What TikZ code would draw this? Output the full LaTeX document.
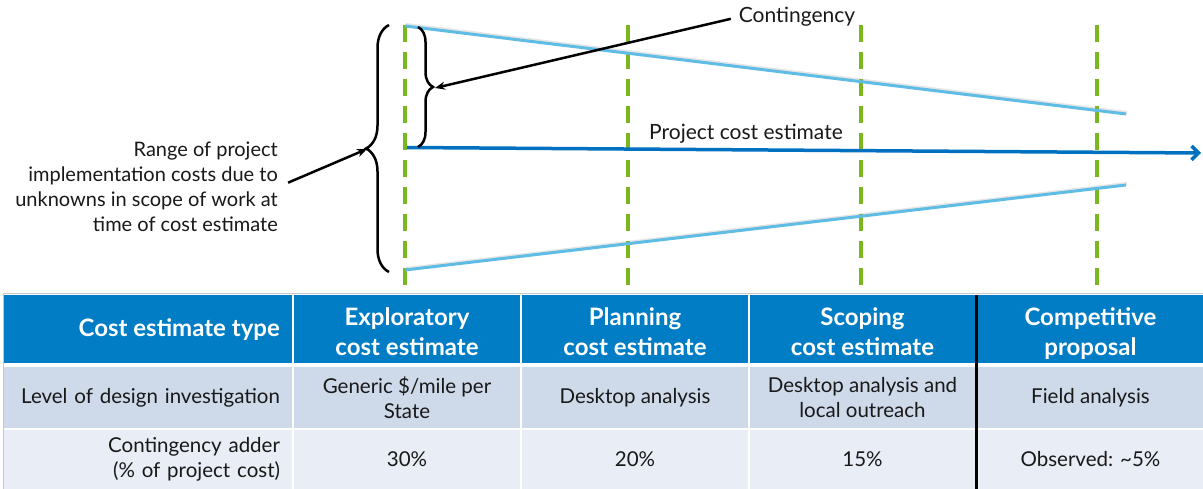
\documentclass[tikz,border=0pt]{standalone}
\usepackage{fontspec}
\setmainfont{Lato}
\usetikzlibrary{arrows.meta,decorations.pathreplacing}
\definecolor{hdrblue}{RGB}{0,125,197}
\definecolor{rowa}{RGB}{206,217,234}
\definecolor{rowb}{RGB}{232,237,246}
\definecolor{lineblue}{RGB}{95,188,228}
\definecolor{arrowblue}{RGB}{0,112,192}
\definecolor{dashgreen}{RGB}{122,182,30}
\definecolor{txt}{RGB}{25,25,25}
\begin{document}
\begin{tikzpicture}[x=1pt,y=-1pt,
  hdr/.style={fill=hdrblue, inner sep=0pt, minimum height=68pt},
  hdrtext/.style={text=white, font=\fontsize{24}{29.5}\selectfont\bfseries, align=center, inner sep=0pt},
  rowA/.style={fill=rowa, text=txt, font=\fontsize{20.5}{24.5}\selectfont, align=center, inner sep=0pt, minimum height=61pt},
  rowB/.style={fill=rowb, text=txt, font=\fontsize{20.5}{24.5}\selectfont, align=center, inner sep=0pt, minimum height=59pt},
  firstcol/.style={text width=264pt, align=right, inner xsep=12pt, inner ysep=0pt},
  wide/.style={minimum width=226pt},
  narrow/.style={minimum width=225pt},
  gdash/.style={draw=dashgreen, line width=3.5pt, dash pattern=on 17pt off 10pt},
  rangeline/.style={draw=lineblue, line width=3pt},
  rshadow/.style={draw=black!40, line width=3pt, opacity=0.25},
  annot/.style={text=txt, font=\fontsize{20}{25}\selectfont, inner sep=0pt},
  blackarrow/.style={draw=black, line width=2.5pt, -{Stealth[length=10pt,width=8pt]}},
  bracestyle/.style={draw=black, line width=2.5pt, decorate},
]
\useasboundingbox (0,0) rectangle (1203,489);
\fill[white] (0,0) rectangle (1203,489);

% green dashed stage lines
\foreach \gx in {405,628,861,1097} {
  \draw[gdash] (\gx,25) -- (\gx,293);
}

% range lines (with faint shadow)
\coordinate (ut0) at (405,26);
\coordinate (ut1) at (1126,114);
\coordinate (lb0) at (405,270);
\coordinate (lb1) at (1126,185);
\draw[rshadow] ([shift={(1pt,1.5pt)}]ut0) -- ([shift={(1pt,1.5pt)}]ut1);
\draw[rshadow] ([shift={(1pt,1.5pt)}]lb0) -- ([shift={(1pt,1.5pt)}]lb1);
\draw[rangeline] (ut0) -- (ut1);
\draw[rangeline] (lb0) -- (lb1);

% project cost estimate arrow
\coordinate (pstart) at (407,147.5);
\coordinate (pend) at (1201,153);
\draw[draw=arrowblue, line width=3.5pt, -{Straight Barb[length=7pt,width=14pt]}] (pstart) -- (pend);
\node[annot, font=\fontsize{21}{25}\selectfont] (plabel) at (746,134) {Project cost estimate};

% braces
\draw[bracestyle, decoration={brace, amplitude=15pt}] (418,27) -- (418,147);
\coordinate (smalltip) at (435,88);
\draw[bracestyle, decoration={brace, amplitude=23pt}] (389,272) -- (389,25);
\coordinate (bigtip) at (367,149);

% labels and arrows
\node[annot, font=\fontsize{21}{25}\selectfont] (contlabel) at (797,17) {Contingency};
\draw[blackarrow, shorten <=8pt] (contlabel.west) -- (smalltip);

\node[annot, align=right, anchor=east] (rangetext) at (278,187)
  {Range of project\\implementation costs due to\\unknowns in scope of work at\\time of cost estimate};
\draw[blackarrow, shorten <=11pt] (rangetext.east) -- (bigtip);

% table frame
\draw[draw=black!22, line width=1pt] (3.5,293.5) rectangle (1203,489);

% header row
\node[hdr, minimum width=288pt] (h0) at (148,329) {};
\node[hdr, wide] (h1) at (407,329) {};
\node[hdr, wide] (h2) at (635,329) {};
\node[hdr, narrow] (h3) at (862.5,329) {};
\node[hdr, narrow] (h4) at (1090.5,329) {};
\node[hdrtext, anchor=east] (h0t) at (280,330) {Cost estimate type};
\node[hdrtext] (h1t) at (407,331.5) {Exploratory\\cost estimate};
\node[hdrtext] (h2t) at (635,331.5) {Planning\\cost estimate};
\node[hdrtext] (h3t) at (862.5,331.5) {Scoping\\cost estimate};
\node[hdrtext] (h4t) at (1090.5,333.5) {Competitive\\proposal};

% row 2
\node[rowA, firstcol] (a0) at (148,397.5) {Level of design investigation};
\node[rowA, wide] (a1) at (407,397.5) {Generic \$/mile per\\State};
\node[rowA, wide] (a2) at (635,397.5) {Desktop analysis};
\node[rowA, narrow] (a3) at (862.5,397.5) {Desktop analysis and\\local outreach};
\node[rowA, narrow] (a4) at (1090.5,397.5) {Field analysis};

% row 3
\node[rowB, firstcol] (b0) at (148,459.5) {Contingency adder\\(\% of project cost)};
\node[rowB, wide] (b1) at (407,459.5) {30\%};
\node[rowB, wide] (b2) at (635,459.5) {20\%};
\node[rowB, narrow] (b3) at (862.5,459.5) {15\%};
\node[rowB, narrow] (b4) at (1090.5,459.5) {Observed: \char"7E 5\%};

% thick separator
\draw[line width=3pt, black] (976.5,295) -- (976.5,489);
\end{tikzpicture}
\end{document}
